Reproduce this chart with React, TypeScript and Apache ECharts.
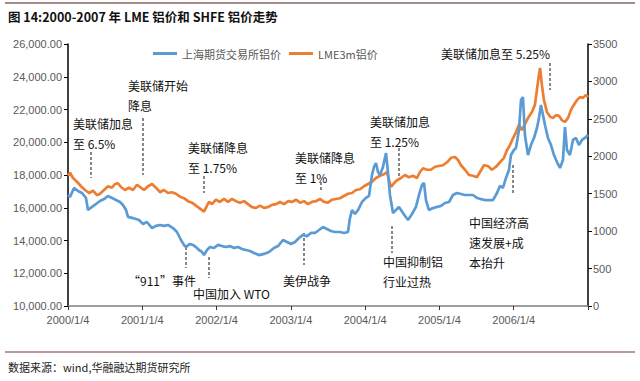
import React, { useEffect, useRef } from "react";
import * as echarts from "echarts";

// SHFE aluminium (yuan/t, left axis); time in decimal years from 2000/1/4
const shfeTime = [
  2000.000, 2000.027, 2000.081, 2000.135, 2000.188, 2000.242, 2000.269, 2000.323, 2000.377, 2000.431,
  2000.485, 2000.538, 2000.592, 2000.646, 2000.700, 2000.740, 2000.781, 2000.808, 2000.875, 2000.956,
  2001.010, 2001.063, 2001.131, 2001.185, 2001.238, 2001.292, 2001.346, 2001.413, 2001.467, 2001.521,
  2001.561, 2001.588, 2001.642, 2001.683, 2001.736, 2001.763, 2001.804, 2001.831, 2001.871, 2001.911,
  2001.965, 2002.019, 2002.073, 2002.127, 2002.181, 2002.235, 2002.288, 2002.342, 2002.396, 2002.450,
  2002.504, 2002.571, 2002.638, 2002.706, 2002.773, 2002.827, 2002.894, 2002.948, 2003.002, 2003.056,
  2003.109, 2003.163, 2003.217, 2003.271, 2003.325, 2003.379, 2003.432, 2003.486, 2003.540, 2003.594,
  2003.661, 2003.715, 2003.769, 2003.796, 2003.823, 2003.863, 2003.904, 2003.957, 2004.011, 2004.052,
  2004.092, 2004.119, 2004.146, 2004.173, 2004.200, 2004.240, 2004.281, 2004.307, 2004.334, 2004.375,
  2004.415, 2004.456, 2004.509, 2004.577, 2004.631, 2004.684, 2004.725, 2004.765, 2004.792, 2004.819,
  2004.859, 2004.913, 2004.967, 2005.021, 2005.075, 2005.129, 2005.182, 2005.236, 2005.290, 2005.344,
  2005.398, 2005.452, 2005.505, 2005.559, 2005.613, 2005.667, 2005.721, 2005.775, 2005.815, 2005.855,
  2005.896, 2005.936, 2005.963, 2006.003, 2006.030, 2006.071, 2006.098, 2006.124, 2006.151, 2006.192,
  2006.232, 2006.273, 2006.313, 2006.340, 2006.367, 2006.394, 2006.421, 2006.461, 2006.502, 2006.542,
  2006.582, 2006.623, 2006.663, 2006.690, 2006.717, 2006.757, 2006.798, 2006.838, 2006.878, 2006.919,
  2006.959, 2007.000,
];
const shfePrice = [
  16780, 16660, 17210, 17020, 16900, 16600, 15860, 16050, 16230, 16410,
  16530, 16720, 16600, 16470, 16350, 16170, 15860, 15440, 15370, 15250,
  15010, 15130, 14760, 14890, 14950, 14890, 14950, 14760, 14520, 14030,
  13730, 13600, 13790, 13730, 13540, 13420, 13300, 13110, 13420, 13600,
  13540, 13730, 13660, 13600, 13660, 13540, 13600, 13480, 13420, 13360,
  13240, 13110, 13180, 13300, 13540, 13660, 14030, 13910, 13790, 13910,
  14150, 14340, 14270, 14460, 14460, 14640, 14820, 14700, 14580, 14520,
  14520, 14460, 14520, 15370, 15860, 15620, 15860, 16350, 16600, 16720,
  18000, 18490, 18730, 18180, 18000, 18490, 19340, 18180, 16780, 15680,
  15860, 16050, 15680, 15250, 15620, 16050, 16780, 17390, 17510, 16470,
  15860, 15980, 16050, 16110, 16290, 16350, 16780, 16900, 16840, 16780,
  16780, 16780, 16600, 16530, 16470, 16470, 16470, 16900, 17330, 17210,
  17820, 18310, 19220, 19530, 19650, 20750, 22580, 22760, 20440, 19220,
  19830, 20260, 20870, 21480, 22280, 21660, 21050, 20260, 19830, 19220,
  18790, 18430, 18920, 20930, 19530, 19220, 20140, 20260, 19830, 20140,
  20260, 20440,
];

// LME 3-month aluminium (USD/t, right axis)
const lmeTime = [
  2000.000, 2000.027, 2000.067, 2000.121, 2000.175, 2000.229, 2000.283, 2000.337, 2000.390, 2000.431,
  2000.485, 2000.538, 2000.592, 2000.633, 2000.673, 2000.713, 2000.767, 2000.821, 2000.875, 2000.929,
  2000.983, 2001.023, 2001.077, 2001.131, 2001.185, 2001.238, 2001.292, 2001.346, 2001.400, 2001.454,
  2001.508, 2001.561, 2001.615, 2001.669, 2001.723, 2001.777, 2001.831, 2001.871, 2001.898, 2001.938,
  2001.992, 2002.046, 2002.100, 2002.154, 2002.208, 2002.261, 2002.315, 2002.369, 2002.423, 2002.477,
  2002.531, 2002.584, 2002.638, 2002.692, 2002.746, 2002.800, 2002.854, 2002.908, 2002.961, 2003.015,
  2003.069, 2003.123, 2003.177, 2003.231, 2003.284, 2003.338, 2003.392, 2003.446, 2003.500, 2003.554,
  2003.607, 2003.661, 2003.715, 2003.769, 2003.823, 2003.877, 2003.931, 2003.984, 2004.038, 2004.092,
  2004.146, 2004.200, 2004.254, 2004.294, 2004.321, 2004.348, 2004.388, 2004.429, 2004.482, 2004.536,
  2004.590, 2004.644, 2004.698, 2004.738, 2004.779, 2004.832, 2004.886, 2004.940, 2004.994, 2005.048,
  2005.102, 2005.156, 2005.209, 2005.250, 2005.290, 2005.344, 2005.398, 2005.452, 2005.505, 2005.546,
  2005.600, 2005.653, 2005.707, 2005.761, 2005.815, 2005.869, 2005.909, 2005.950, 2005.990, 2006.030,
  2006.071, 2006.111, 2006.151, 2006.192, 2006.246, 2006.286, 2006.313, 2006.340, 2006.354, 2006.380,
  2006.407, 2006.448, 2006.488, 2006.528, 2006.569, 2006.609, 2006.650, 2006.690, 2006.730, 2006.771,
  2006.811, 2006.851, 2006.892, 2006.932, 2006.973, 2007.000,
];
const lmePrice = [
  1740, 1780, 1710, 1660, 1600, 1550, 1510, 1540, 1480, 1500,
  1550, 1600, 1580, 1630, 1640, 1590, 1550, 1580, 1550, 1620,
  1580, 1550, 1600, 1630, 1580, 1520, 1550, 1510, 1520, 1500,
  1460, 1440, 1400, 1380, 1340, 1300, 1260, 1340, 1390, 1360,
  1420, 1390, 1430, 1390, 1430, 1400, 1380, 1400, 1360, 1320,
  1310, 1340, 1310, 1320, 1350, 1360, 1390, 1360, 1400, 1390,
  1420, 1380, 1400, 1360, 1390, 1400, 1430, 1390, 1380, 1420,
  1430, 1440, 1470, 1500, 1510, 1550, 1560, 1600, 1630, 1660,
  1710, 1740, 1760, 1790, 1680, 1590, 1640, 1680, 1710, 1750,
  1720, 1740, 1710, 1790, 1840, 1820, 1820, 1860, 1870, 1880,
  1920, 1980, 1990, 1950, 1880, 1820, 1750, 1740, 1720, 1790,
  1880, 1870, 1820, 1860, 1920, 1980, 2080, 2150, 2240, 2320,
  2420, 2350, 2430, 2510, 2590, 2690, 2890, 3090, 3180, 2950,
  2750, 2590, 2530, 2510, 2550, 2540, 2480, 2460, 2510, 2620,
  2690, 2750, 2790, 2780, 2820, 2790,
];

const seriesNames = ["上海期货交易所铝价", "LME3m铝价"];
const xTickYears = [2000, 2001, 2002, 2003, 2004, 2005, 2006];

const annotations = [
  { text: "美联储加息\n至 6.5%", x: 73, y: 113, lx: 91, ly1: 152, ly2: 178 },
  { text: "美联储开始\n降息", x: 128, y: 75, lx: 143, ly1: 118, ly2: 175 },
  { text: "美联储降息\n至 1.75%", x: 188, y: 137, lx: 204, ly1: 176, ly2: 193 },
  { text: "美联储降息\n至 1%", x: 295, y: 147, lx: 321, ly1: 182, ly2: 192 },
  { text: "美联储加息\n至 1.25%", x: 370, y: 111, lx: 399, ly1: 148, ly2: 176 },
  { text: "美联储加息至 5.25%", x: 441, y: 43, lx: 550, ly1: 63, ly2: 90 },
  { text: "中国经济高\n速发展+成\n本抬升", x: 469, y: 212, lx: 513, ly1: 165, ly2: 195 },
  { text: "中国抑制铝\n行业过热", x: 383, y: 251, lx: 392, ly1: 226, ly2: 253 },
  { text: "美伊战争", x: 283, y: 270, lx: 304, ly1: 233, ly2: 265 },
  { text: "“911”事件", x: 128, y: 270, lx: 186, ly1: 247, ly2: 268 },
  { text: "中国加入 WTO", x: 193, y: 283, lx: 209, ly1: 257, ly2: 278 },
];

const CJK = '"Noto Sans CJK SC", "Noto Sans", sans-serif';
const NUM = '"Liberation Sans", Arial, sans-serif';

export default function App() {
  const ref = useRef<HTMLDivElement>(null);
  useEffect(() => {
    if (!ref.current) return;
    const chart = echarts.init(ref.current, undefined, { renderer: "svg" });
    const graphics: any[] = [
      { type: "line", shape: { x1: 5, y1: 3, x2: 635, y2: 3 }, style: { stroke: "#8a6464", lineWidth: 1.5 } },
      {
        type: "text", x: 8, y: 10,
        style: { text: "图 14:2000-2007 年 LME 铝价和 SHFE 铝价走势", fontSize: 12.5, fontWeight: "bold", fontFamily: CJK, fill: "#111", verticalAlign: "top" },
      },
      { type: "line", shape: { x1: 5, y1: 352, x2: 635, y2: 352 }, style: { stroke: "#b89c9c", lineWidth: 2 } },
      {
        type: "text", x: 8, y: 361,
        style: { text: "数据来源：wind,华融融达期货研究所", fontSize: 11, fontFamily: CJK, fill: "#222", verticalAlign: "top" },
      },
    ];
    annotations.forEach((a) => {
      graphics.push({
        type: "line",
        shape: { x1: a.lx, y1: a.ly1, x2: a.lx, y2: a.ly2 },
        style: { stroke: "#111", lineWidth: 1, lineDash: [3, 2] },
      });
      graphics.push({
        type: "text", x: a.x, y: a.y,
        style: { text: a.text, fontSize: 12, fontFamily: CJK, fill: "#111", lineHeight: 20, verticalAlign: "top" },
      });
    });

    chart.setOption({
      animation: false,
      backgroundColor: "#fff",
      grid: { left: 68, right: 52, top: 44, bottom: 75, containLabel: false },
      legend: {
        data: seriesNames,
        left: 148, top: 43,
        icon: "rect", itemWidth: 24, itemHeight: 3, itemGap: 8,
        textStyle: { fontSize: 11, color: "#595959", fontFamily: CJK },
      },
      xAxis: {
        type: "value", min: 2000, max: 2007, interval: 1,
        axisLine: { lineStyle: { color: "#7f7f7f", width: 1.5 } },
        axisTick: { show: true, inside: false, length: 4, lineStyle: { color: "#333" } },
        splitLine: { show: false },
        axisLabel: {
          fontSize: 11, color: "#595959", fontFamily: NUM, margin: 8,
          formatter: (v: number) => (xTickYears.includes(Math.round(v)) ? `${Math.round(v)}/1/4` : ""),
        },
      },
      yAxis: [
        {
          type: "value", min: 10000, max: 26000, interval: 2000,
          axisLine: { show: true, lineStyle: { color: "#000", width: 1.5 } },
          axisTick: { show: true, length: 4, lineStyle: { color: "#000" } },
          splitLine: { show: false },
          axisLabel: {
            fontSize: 11, color: "#595959", fontFamily: NUM, margin: 6,
            formatter: (v: number) => v.toLocaleString("en-US", { minimumFractionDigits: 2, maximumFractionDigits: 2 }),
          },
        },
        {
          type: "value", min: 0, max: 3500, interval: 500, position: "right",
          axisLine: { show: true, lineStyle: { color: "#000", width: 1.5 } },
          axisTick: { show: true, length: 4, lineStyle: { color: "#000" } },
          splitLine: { show: false },
          axisLabel: { fontSize: 11, color: "#595959", fontFamily: NUM, margin: 5, formatter: (v: number) => String(v) },
        },
      ],
      series: [
        {
          name: seriesNames[1], type: "line", yAxisIndex: 1, showSymbol: false,
          data: lmeTime.map((t, i) => [t, lmePrice[i]]),
          lineStyle: { color: "#ED7D31", width: 2.7 }, itemStyle: { color: "#ED7D31" },
        },
        {
          name: seriesNames[0], type: "line", yAxisIndex: 0, showSymbol: false,
          data: shfeTime.map((t, i) => [t, shfePrice[i]]),
          lineStyle: { color: "#5B9BD5", width: 2.7 }, itemStyle: { color: "#5B9BD5" },
        },
      ],
      graphic: graphics,
    });
    return () => chart.dispose();
  }, []);
  return <div ref={ref} style={{ position: "absolute", left: 0, top: 0, width: 640, height: 381 }} />;
}
